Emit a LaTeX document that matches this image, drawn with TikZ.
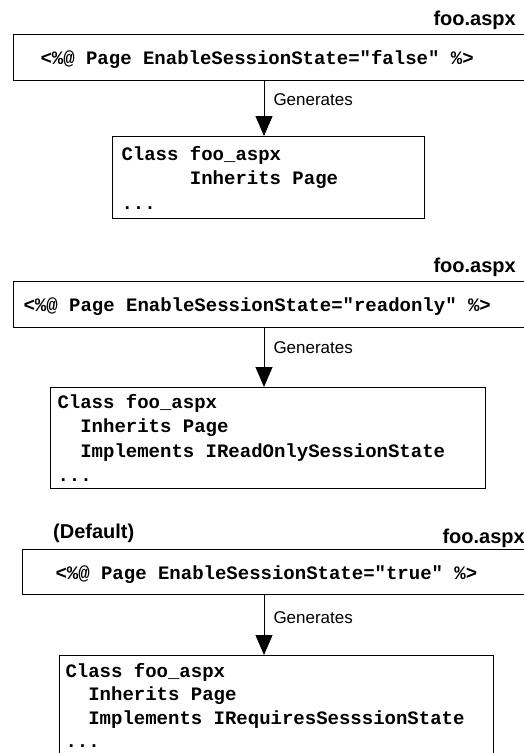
\documentclass[tikz,border=0pt]{standalone}
\usepackage{fontspec}
\setsansfont{Liberation Sans}
\setmonofont{Liberation Mono}
\usetikzlibrary{arrows.meta}

\begin{document}
\begin{tikzpicture}[x=1pt,y=-1pt,
  pagebox/.style={draw,line width=1pt,anchor=north west,inner ysep=0pt,minimum height=46pt,text height=17pt,text depth=3pt,font=\ttfamily\bfseries\fontsize{19}{24.5}\selectfont,execute at begin node={\spaceskip=0.6em\xspaceskip=0.6em\relax}},
  classbox/.style={draw,line width=1pt,anchor=north west,font=\ttfamily\bfseries\fontsize{19}{24.5}\selectfont,execute at begin node={\spaceskip=0.6em\xspaceskip=0.6em\baselineskip=24.5pt\relax}},
  filename/.style={inner sep=0pt,font=\sffamily\bfseries\fontsize{20}{24}\selectfont},
  genlabel/.style={anchor=base west,inner sep=0pt,xshift=9pt,font=\sffamily\fontsize{17}{20}\selectfont},
  generates/.style={line width=1pt,-{Triangle[length=20pt,width=17pt]}}]

\useasboundingbox (0,0) rectangle (524,753);
\coordinate (axis) at (264,0);

% EnableSessionState="false"
\node[filename,anchor=base east] (file1) at (516,25) {foo.aspx};
\node[pagebox,inner xsep=27pt,text width=480pt] (page1) at (13,34) {<\%@ Page EnableSessionState="false" \%>};
\node[classbox,inner xsep=9pt,inner ysep=9.6pt,text width=294pt] (class1) at (112,136) {Class foo\_aspx\\\hphantom{xxxxxx}Inherits Page\\...};
\draw[generates] (page1.south -| axis) -- node[genlabel,pos=0.45] (gen1) {Generates} (class1.north -| axis);

% EnableSessionState="readonly"
\node[filename,anchor=base east] (file2) at (516,272) {foo.aspx};
\node[pagebox,inner xsep=10pt,text width=520pt] (page2) at (13,281) {<\%@ Page EnableSessionState="readonly" \%>};
\node[classbox,inner xsep=7pt,inner ysep=6.6pt,text width=421pt] (class2) at (50,387) {Class foo\_aspx\\\hphantom{xx}Inherits Page\\\hphantom{xx}Implements IReadOnlySessionState\\...};
\draw[generates] (page2.south -| axis) -- node[genlabel,pos=0.43] (gen2) {Generates} (class2.north -| axis);

% EnableSessionState="true"
\node[filename,anchor=base west] (default3) at (53,538) {(Default)};
\node[filename,anchor=base east] (file3) at (525,543) {foo.aspx};
\node[pagebox,inner xsep=33pt,minimum height=45pt,text width=480pt] (page3) at (22,549) {<\%@ Page EnableSessionState="true" \%>};
\node[classbox,inner xsep=6pt,inner ysep=8pt,text width=422pt,execute at begin node={\spaceskip=0.6em\xspaceskip=0.6em\baselineskip=23.3pt\relax}] (class3) at (59,655) {Class foo\_aspx\\\hphantom{xx}Inherits Page\\\hphantom{xx}Implements IRequiresSesssionState\\...};
\draw[generates] (page3.south -| axis) -- node[genlabel,pos=0.47] (gen3) {Generates} (class3.north -| axis);

\end{tikzpicture}
\end{document}
